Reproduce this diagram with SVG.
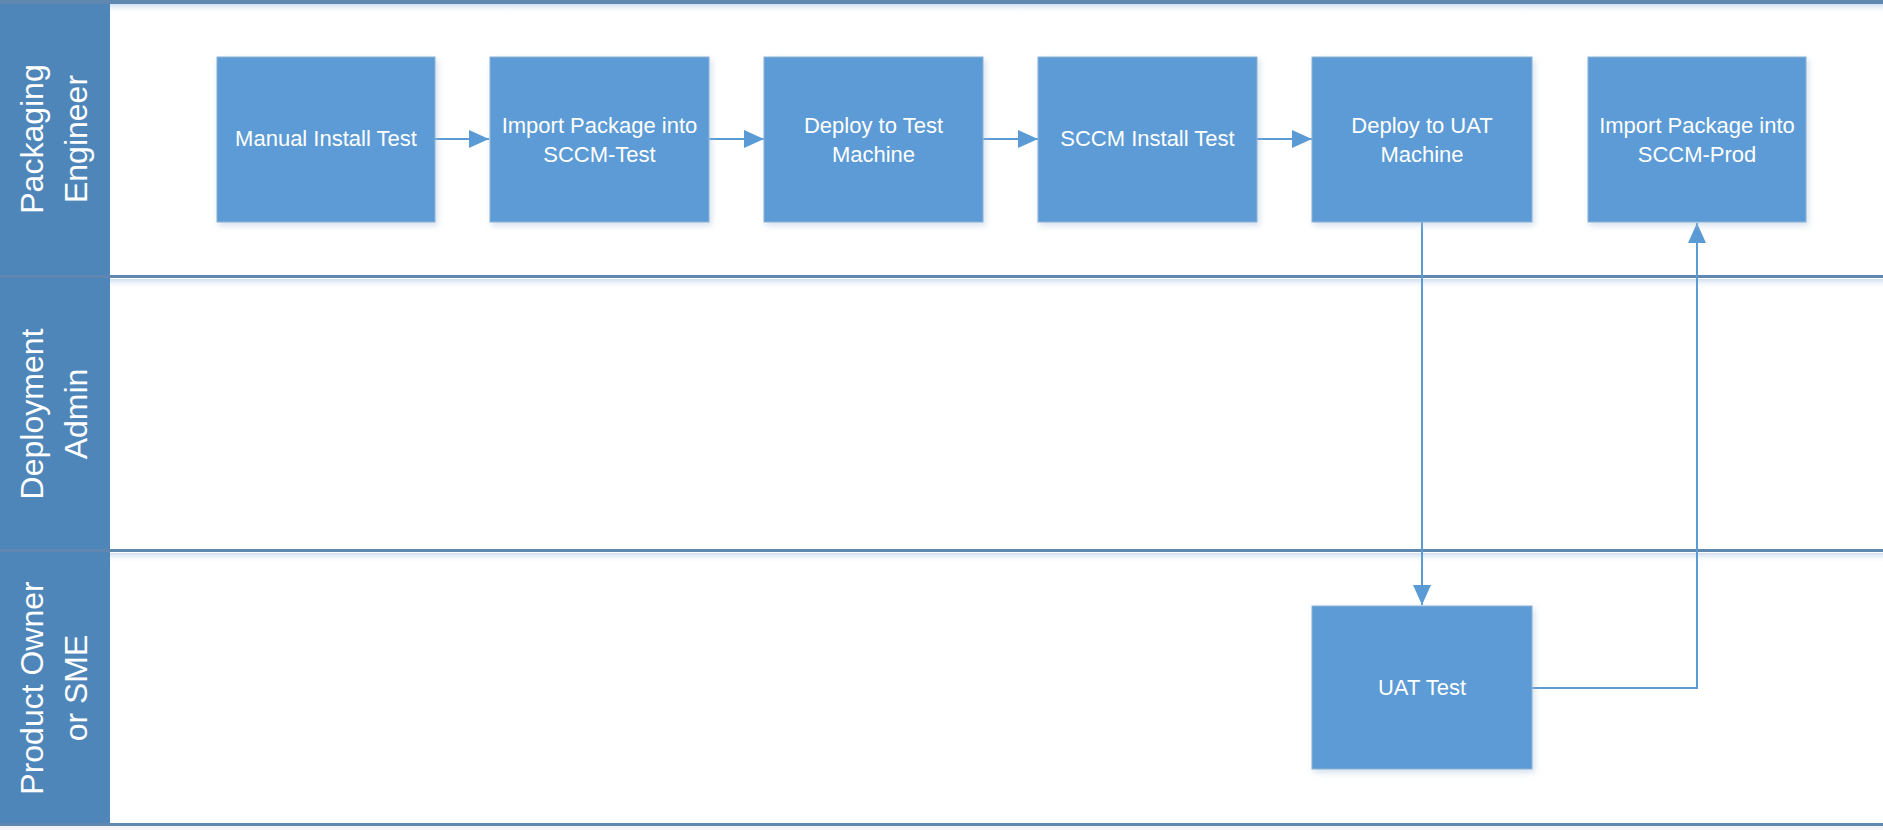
<svg xmlns="http://www.w3.org/2000/svg" width="1883" height="830" viewBox="0 0 1883 830">
<defs>
<style>
.hdr{fill:#4F86BA}
.lane-line{fill:#5F87B0}
.glow{fill:url(#glowGrad)}
.box{fill:#5B9BD5;stroke:#8FB3D6;stroke-width:1;filter:url(#shadow)}
.btxt{font-family:"Liberation Sans",Arial,sans-serif;font-size:22px;fill:#FFFFFF;text-anchor:middle}
.ltxt{font-family:"Liberation Sans",Arial,sans-serif;font-size:32px;fill:#FFFFFF;text-anchor:middle}
.conn{fill:none;stroke:#5B9BD5;stroke-width:2}
</style>
<linearGradient id="glowGrad" x1="0" y1="0" x2="0" y2="1">
<stop offset="0" stop-color="#C9DAEE" stop-opacity="0.9"/>
<stop offset="1" stop-color="#FFFFFF" stop-opacity="0"/>
</linearGradient>
<filter id="shadow" x="-10%" y="-10%" width="125%" height="125%">
<feGaussianBlur in="SourceAlpha" stdDeviation="3"/>
<feOffset dx="2" dy="3" result="b"/>
<feFlood flood-color="#9DB8D6" flood-opacity="0.45"/>
<feComposite in2="b" operator="in"/>
<feMerge><feMergeNode/><feMergeNode in="SourceGraphic"/></feMerge>
</filter>
<marker id="arrow" viewBox="0 0 20 18" refX="20" refY="9" markerWidth="20" markerHeight="18" markerUnits="userSpaceOnUse" orient="auto">
<path d="M0,0 L20,9 L0,18 Z" fill="#5B9BD5"/>
</marker>
</defs>
<rect x="0" y="0" width="1883" height="830" fill="#FFFFFF"/>

<g id="lanes">
<rect class="hdr" x="0" y="2" width="110" height="824"/>
<rect class="glow" x="110" y="4" width="1773" height="10"/>
<rect class="glow" x="110" y="279" width="1773" height="10"/>
<rect class="glow" x="110" y="553" width="1773" height="10"/>
<rect class="lane-line" x="0" y="0" width="1883" height="4"/>
<rect class="lane-line" x="0" y="275" width="1883" height="3"/>
<rect class="lane-line" x="0" y="549" width="1883" height="3"/>
<rect class="lane-line" x="0" y="823" width="1883" height="3"/>
<rect x="0" y="826" width="1883" height="4" fill="#F2F4F7"/>
</g>

<g id="lane-packaging-engineer">
<text class="ltxt" transform="translate(43,139) rotate(-90)">Packaging</text>
<text class="ltxt" transform="translate(87,139) rotate(-90)">Engineer</text>
</g>
<g id="lane-deployment-admin">
<text class="ltxt" transform="translate(43,414) rotate(-90)">Deployment</text>
<text class="ltxt" transform="translate(87,414) rotate(-90)">Admin</text>
</g>
<g id="lane-product-owner">
<text class="ltxt" transform="translate(43,688) rotate(-90)">Product Owner</text>
<text class="ltxt" transform="translate(87,688) rotate(-90)">or SME</text>
</g>

<g id="connectors">
<line class="conn" x1="435" y1="139" x2="489" y2="139" marker-end="url(#arrow)"/>
<line class="conn" x1="709" y1="139" x2="764" y2="139" marker-end="url(#arrow)"/>
<line class="conn" x1="983" y1="139" x2="1038" y2="139" marker-end="url(#arrow)"/>
<line class="conn" x1="1257" y1="139" x2="1312" y2="139" marker-end="url(#arrow)"/>
<line class="conn" x1="1422" y1="222" x2="1422" y2="605" marker-end="url(#arrow)"/>
<polyline class="conn" points="1532,688 1697,688 1697,223" marker-end="url(#arrow)"/>
</g>

<g id="node-manual-install-test">
<rect class="box" x="217" y="57" width="218" height="165"/>
<text class="btxt" x="326" y="146">Manual Install Test</text>
</g>
<g id="node-import-sccm-test">
<rect class="box" x="490" y="57" width="219" height="165"/>
<text class="btxt" x="599.5" y="133">Import Package into</text>
<text class="btxt" x="599.5" y="162">SCCM-Test</text>
</g>
<g id="node-deploy-test-machine">
<rect class="box" x="764" y="57" width="219" height="165"/>
<text class="btxt" x="873.5" y="133">Deploy to Test</text>
<text class="btxt" x="873.5" y="162">Machine</text>
</g>
<g id="node-scom-install-test">
<rect class="box" x="1038" y="57" width="219" height="165"/>
<text class="btxt" x="1147.5" y="146">SCCM Install Test</text>
</g>
<g id="node-deploy-uat-machine">
<rect class="box" x="1312" y="57" width="220" height="165"/>
<text class="btxt" x="1422" y="133">Deploy to UAT</text>
<text class="btxt" x="1422" y="162">Machine</text>
</g>
<g id="node-import-sccm-prod">
<rect class="box" x="1588" y="57" width="218" height="165"/>
<text class="btxt" x="1697" y="133">Import Package into</text>
<text class="btxt" x="1697" y="162">SCCM-Prod</text>
</g>
<g id="node-uat-test">
<rect class="box" x="1312" y="606" width="220" height="163"/>
<text class="btxt" x="1422" y="695">UAT Test</text>
</g>
</svg>
